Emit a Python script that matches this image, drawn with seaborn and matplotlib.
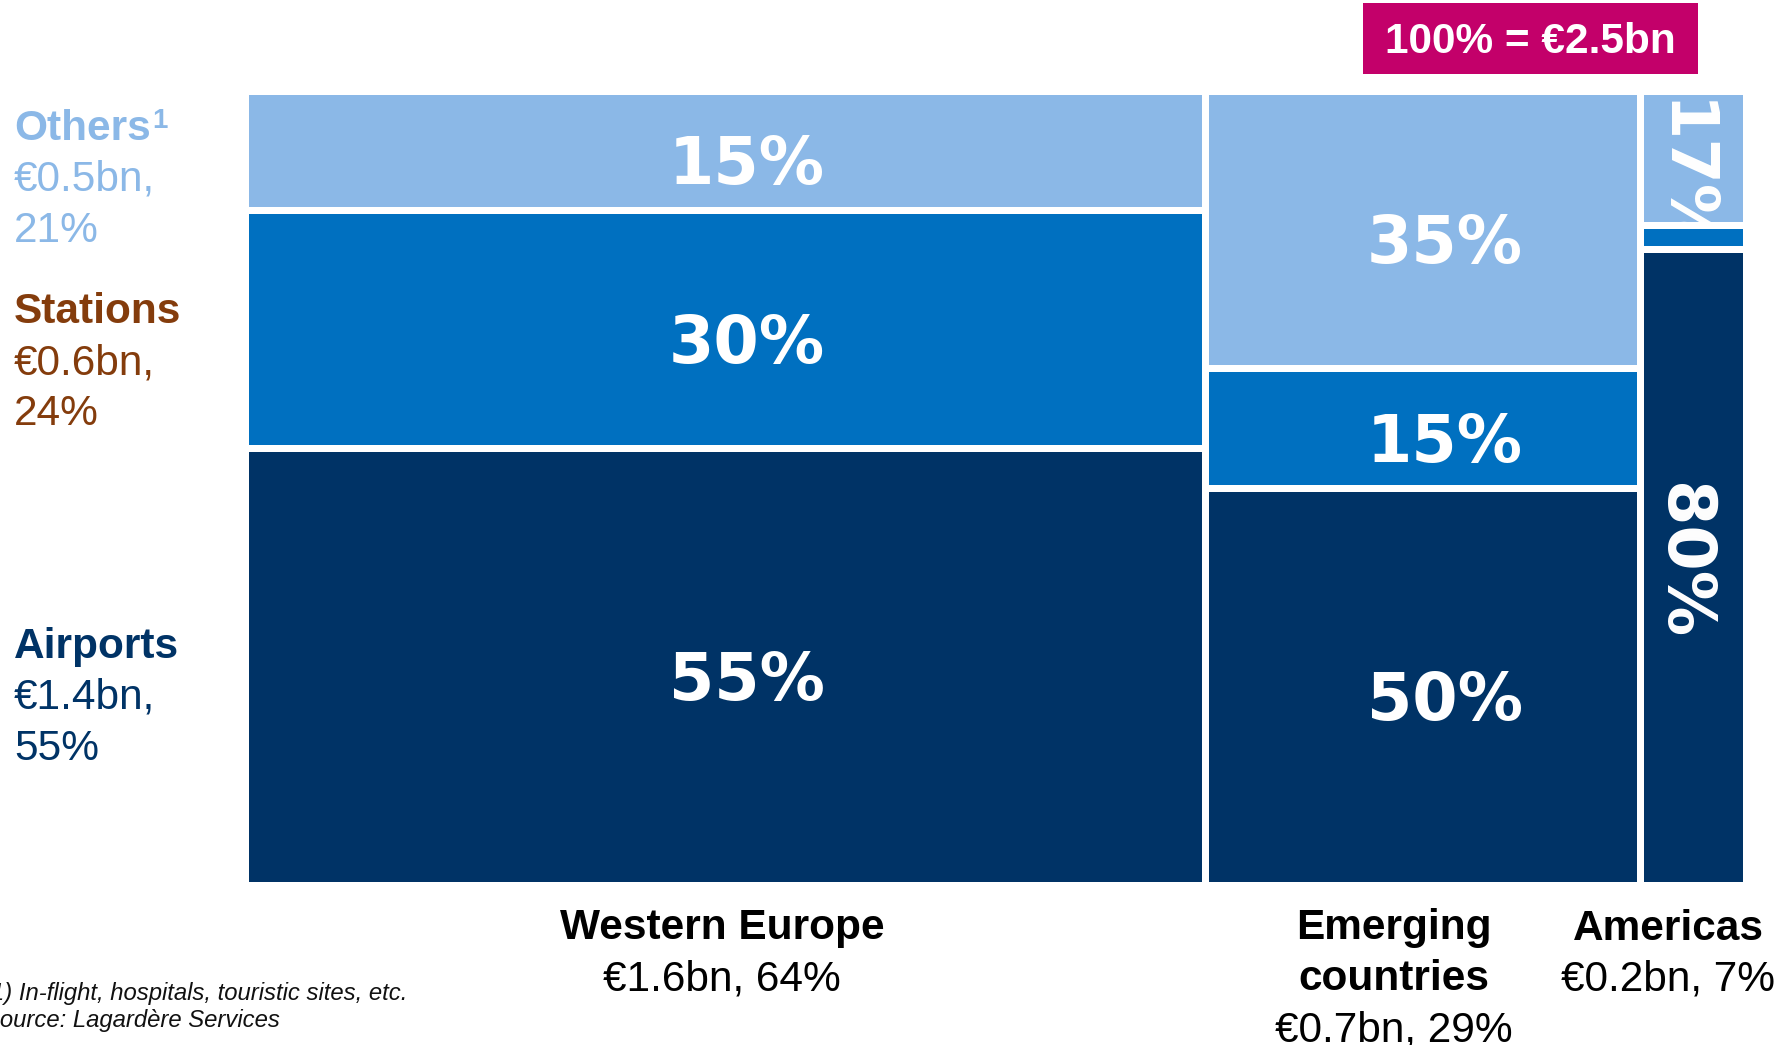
import numpy as np
import pandas as pd
import matplotlib
matplotlib.use("Agg")
import matplotlib.pyplot as plt
from matplotlib.patches import Rectangle
import seaborn as sns

# Sales split by region (column widths) and by channel (stacked shares)
regions = [["Western Europe"], ["Emerging", "countries"], ["Americas"]]
region_sales = ["€1.6bn", "€0.7bn", "€0.2bn"]
region_share = [64, 29, 7]

channels = ["Others", "Stations", "Airports"]
channel_sales = ["€0.5bn", "€0.6bn", "€1.4bn"]
channel_share = [21, 24, 55]

others_pct = [15, 35, 17]
stations_pct = [30, 15, 3]
airports_pct = [55, 50, 80]

total_label = "100% = €2.5bn"
footnotes = ["1) In-flight, hospitals, touristic sites, etc.",
             "Source: Lagardère Services"]

W, H = 1785, 1045
PT = 0.72  # points per pixel at 100 dpi

sns.set_theme(style="white")
plt.rcParams["font.family"] = ["Liberation Sans", "DejaVu Sans"]

fig = plt.figure(figsize=(W / 100, H / 100), dpi=100)
fig.patch.set_facecolor("white")


def fx(px):
    return px / W


def fy(py):
    return 1 - py / H


gap = 7  # white separator between tiles, in pixels
left, right, top, bottom = 248, 1742, 94, 881
ax = fig.add_axes([fx(left - gap / 2), fy(bottom + gap / 2),
                   (right - left + gap) / W, (bottom - top + gap) / H])

edges = [0] + [float(v) for v in np.cumsum(region_share)]
mids = [(a + b) / 2 for a, b in zip(edges[:-1], edges[1:])]
pct = {"Others": others_pct, "Stations": stations_pct, "Airports": airports_pct}
df = pd.DataFrame([{"x": mids[i], "channel": c, "pct": pct[c][i]}
                   for i in range(len(regions)) for c in channels])

palette = {"Others": "#8BB8E7", "Stations": "#0070C0", "Airports": "#003366"}
text_colors = {"Others": "#8BB8E7", "Stations": "#843C0C", "Airports": "#003366"}

sns.histplot(data=df, x="x", weights="pct", hue="channel", hue_order=channels,
             bins=edges, multiple="fill", palette=palette, alpha=1,
             edgecolor="white", linewidth=gap * PT, legend=False, ax=ax)
ax.set_xlim(edges[0], edges[-1])
ax.set_ylim(0, 1)
ax.set_axis_off()


def tile_patch(x0, y0):
    for p in ax.patches:
        if abs(p.get_x() - x0) < 1e-6 and abs(p.get_y() - y0) < 1e-6:
            return p
    return None


# Percentage labels inside each tile
pct_font = dict(family="DejaVu Sans", weight="bold", size=47, color="white")
for i in range(len(regions)):
    base = 0
    for c in ["Airports", "Stations", "Others"]:
        v = pct[c][i]
        y0 = base / 100
        yc = (base + v / 2) / 100
        base += v
        if v < 5:
            continue
        if region_share[i] < 10:
            if c == "Others":
                t = ax.annotate(f"{v}%", (mids[i], base / 100),
                                xytext=(-8, -10 * PT),
                                textcoords="offset points", rotation=270,
                                rotation_mode="anchor",
                                ha="left", va="center", **pct_font)
            else:
                t = ax.annotate(f"{v}%", (mids[i], yc), xytext=(-8, 6 * PT),
                                textcoords="offset points", rotation=270,
                                rotation_mode="anchor",
                                ha="center", va="center", **pct_font)
            patch = tile_patch(edges[i], y0)
            if patch is not None:
                t.set_clip_path(patch)
        else:
            ax.annotate(f"{v}%", (mids[i], yc), xytext=(22 * PT, -34 * PT),
                        textcoords="offset points",
                        ha="center", va="baseline", **pct_font)

# Region labels under the columns
label_dx = [-3, -29, -25]
line_h = 51
for i, name_lines in enumerate(regions):
    lines = [(t, "bold") for t in name_lines]
    lines.append((f"{region_sales[i]}, {region_share[i]}%", "normal"))
    for k, (t, w) in enumerate(lines):
        ax.annotate(t, (mids[i], 0),
                    xytext=(label_dx[i] * PT, -(55 + k * line_h) * PT),
                    textcoords="offset points", ha="center", va="baseline",
                    fontsize=30.5, weight=w, color="black",
                    annotation_clip=False)

# Channel legend on the left
renderer = fig.canvas.get_renderer()
label_tops = [140, 323, 658]
for c, s, sh, y0 in zip(channels, channel_sales, channel_share, label_tops):
    head = fig.text(fx(14), fy(y0), c, fontsize=30.5, weight="bold",
                    color=text_colors[c], va="baseline")
    if c == "Others":
        bb = head.get_window_extent(renderer)
        fig.text((bb.x1 + 1) / W, fy(y0 - 12), "1", fontsize=20, weight="bold",
                 color=text_colors[c], va="baseline")
    fig.text(fx(14), fy(y0 + line_h), f"{s},", fontsize=30.5,
             color=text_colors[c], va="baseline")
    fig.text(fx(14), fy(y0 + 2 * line_h), f"{sh}%", fontsize=30.5,
             color=text_colors[c], va="baseline")

# Total box
fig.patches.append(Rectangle((fx(1363), fy(74)), (1698 - 1363) / W, 71 / H,
                             transform=fig.transFigure, facecolor="#C3006A",
                             edgecolor="none"))
fig.text(fx(1530), fy(53), total_label, ha="center", va="baseline",
         fontsize=30.5, weight="bold", color="white")

# Footnotes
foot_x = [-9, -16]
for k, t in enumerate(footnotes):
    fig.text(fx(foot_x[k]), fy(1000 + k * 27), t, fontsize=17.2,
             style="italic", color="#111111", va="baseline")

fig.savefig("out.png", dpi=100, facecolor="white")
